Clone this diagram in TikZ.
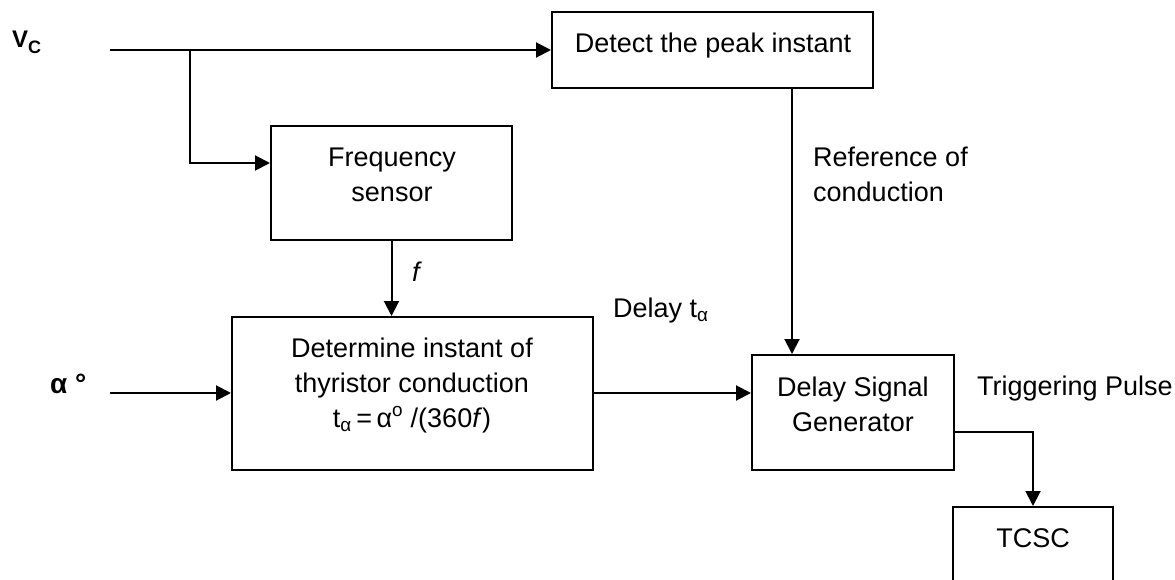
\documentclass[tikz,border=0pt]{standalone}
\usepackage{fontspec}
\setmainfont{Liberation Sans}
\usetikzlibrary{arrows.meta}

\begin{document}
\begin{tikzpicture}[x=1pt,y=-1pt,
  blk/.style={draw, line width=2pt, inner sep=0pt},
  txt/.style={inner sep=0pt, font=\fontsize{27}{35}\selectfont},
  wire/.style={line width=2pt},
  link/.style={wire, -{Triangle[length=15pt,width=15pt]}}
]
\useasboundingbox (0,0) rectangle (1175,580);

% blocks
\node[blk, minimum width=321pt, minimum height=76pt]  (detect) at (712.5,50)   {};
\node[blk, minimum width=241pt, minimum height=114pt] (freq)   at (391.5,183)  {};
\node[blk, minimum width=361pt, minimum height=153pt] (det)    at (412.5,393.5) {};
\node[blk, minimum width=202pt, minimum height=115pt] (dsg)    at (853,412.5)  {};
\node[blk, minimum width=160pt, minimum height=100pt] (tcsc)   at (1033,557)   {};

% block texts
\node[txt, anchor=north] (detectT) at (713,33) {Detect the peak instant};
\node[txt, anchor=north, align=center] (freqT) at (392,148) {Frequency\\sensor};
\node[txt, anchor=north, align=center] (detT) at (412,338)
  {Determine instant of\\thyristor conduction\\t\textsubscript{α}\,=\,α\raisebox{2pt}{\textsuperscript{o}} /(360\textit{f})};
\node[txt, anchor=north, align=center] (dsgT) at (853,377) {Delay Signal\\Generator};
\node[txt, anchor=north] (tcscT) at (1033,528) {TCSC};

% signal labels
\node[txt, anchor=north west, align=left] (refT) at (813,147) {Reference of\\conduction};
\node[txt, anchor=north west] (delayT) at (613,298) {Delay t\textsubscript{α}};
\node[txt, anchor=north west] (trigT) at (977,376) {Triggering Pulse};
\node[txt, anchor=north west] (fT) at (412,262) {\textit{f}};
\node[inner sep=0pt, anchor=north west, font=\fontsize{24}{28}\selectfont\bfseries] (vc) at (12,31)
  {V\raisebox{-6pt}{\fontsize{18}{21}\selectfont C}};
\node[inner sep=0pt, anchor=base west, font=\fontsize{28}{32}\selectfont\bfseries] (alpha) at (50,393) {α °};

% connection points
\coordinate (vin) at (110,50);
\coordinate (split) at (190,50);
\coordinate (ain) at (110,393);
\coordinate (freqin) at ([yshift=-38pt]freq.north west);
\coordinate (detout) at (det.east |- ain);
\coordinate (refout) at ([xshift=79.5pt]detect.south);
\coordinate (trigout) at ([yshift=-19.5pt]dsg.east);

% connectors
\draw[wire] (vin) -- (split);
\draw[link] (split) -- (detect.west);
\draw[link] (split) |- (freqin);
\draw[link] (freq.south) -- (freq.south |- det.north);
\draw[link] (ain) -- (ain -| det.west);
\draw[link] (detout) -- (detout -| dsg.west);
\draw[link] (refout) -- (refout |- dsg.north);
\draw[link] (trigout) -| (tcsc.north);
\end{tikzpicture}
\end{document}
